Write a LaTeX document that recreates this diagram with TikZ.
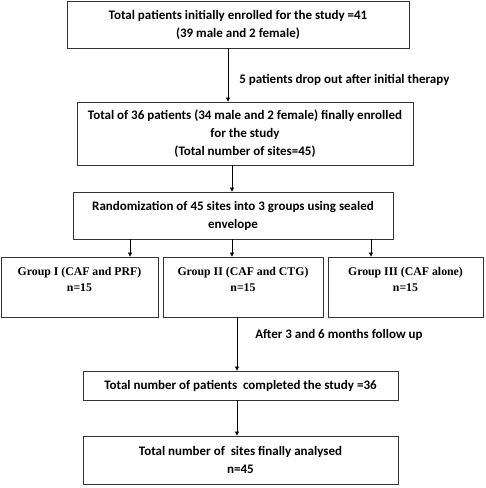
\documentclass[tikz,border=0pt]{standalone}
\usepackage{fontspec}
\setmainfont{Carlito}
\newfontfamily\grpfont{Liberation Serif}
\usepackage{tikz}
\usetikzlibrary{arrows.meta}

\begin{document}
\begin{tikzpicture}[x=1pt,y=-1pt,
  box/.style={draw=black!80,line width=0.8pt,align=center,inner sep=0pt,
    font=\fontsize{13}{18}\selectfont\bfseries},
  grpbox/.style={box,font=\grpfont\fontsize{11.8}{16}\selectfont\bfseries},
  arr/.style={-{Triangle[length=4pt,width=4pt]},line width=0.6pt},
  lbl/.style={font=\fontsize{13}{15}\selectfont\bfseries,anchor=west,inner sep=0pt}]
 \useasboundingbox (0,0) rectangle (486,488);

 \node[box,minimum width=342pt,minimum height=47pt] (enrol) at (238,24.5)
   {Total patients initially enrolled for the study =41\\(39 male and 2 female)};
 \node[box,minimum width=336pt,minimum height=63pt] (final) at (245,133.5)
   {Total of 36 patients (34 male and 2 female) finally enrolled\\for the study\\(Total number of sites=45)};
 \node[box,minimum width=320pt,minimum height=47pt] (random) at (233,215.5)
   {Randomization of 45 sites into 3 groups using sealed\\envelope};

 \node[grpbox,minimum width=157pt,minimum height=60pt] (grpI) at (79.5,287)
   {Group I (CAF and PRF)\\n=15\\\mbox{}};
 \node[grpbox,minimum width=160pt,minimum height=60pt] (grpII) at (243,287)
   {Group II (CAF and CTG)\\n=15\\\mbox{}};
 \node[grpbox,minimum width=155pt,minimum height=60pt] (grpIII) at (405.5,287)
   {Group III (CAF alone)\\n=15\\\mbox{}};

 \node[box,minimum width=315pt,minimum height=29pt] (done) at (240.5,385.5)
   {Total number of patients \ completed the study =36};
 \node[box,minimum width=315pt,minimum height=48pt] (sites) at (240.5,460)
   {Total number of \ sites finally analysed\\n=45};

 \draw[arr] (enrol.south -| 228,0) -- (final.north -| 228,0)
   node[lbl,pos=0.6,xshift=11pt] {5 patients drop out after initial therapy};
 \draw[arr] (final.south -| 232,0) -- (random.north -| 232,0);
 \draw[arr] (random.south -| 130,0) -- (grpI.north -| 130,0);
 \draw[arr] (random.south -| 232,0) -- (grpII.north -| 232,0);
 \draw[arr] (random.south -| 371,0) -- (grpIII.north -| 371,0);
 \draw[arr] (grpII.south -| 237,0) -- (done.north -| 237,0)
   node[lbl,pos=0.33,xshift=18pt] {After 3 and 6 months follow up};
 \draw[arr] (done.south -| 237,0) -- (sites.north -| 237,0);
\end{tikzpicture}
\end{document}
